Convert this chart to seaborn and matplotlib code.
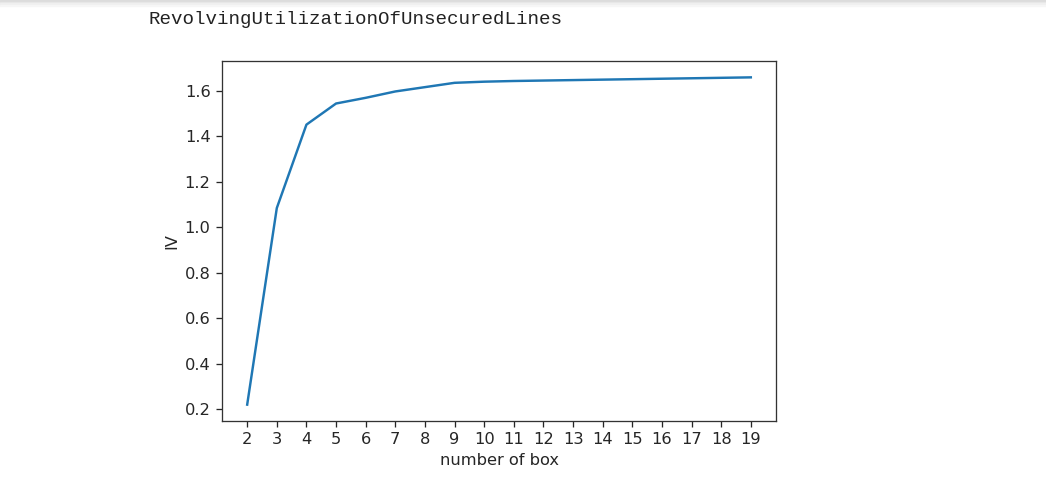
import matplotlib
matplotlib.use("Agg")
import matplotlib.pyplot as plt
import seaborn as sns
import pandas as pd

# data
n_box = [2, 3, 4, 5, 6, 7, 8, 9, 10, 11, 12, 13, 14, 15, 16, 17, 18, 19]
iv = [0.22, 1.085, 1.452, 1.545, 1.570, 1.598, 1.617, 1.636, 1.641, 1.644,
      1.646, 1.648, 1.650, 1.652, 1.654, 1.656, 1.658, 1.660]
title_text = "RevolvingUtilizationOfUnsecuredLines"
x_label = "number of box"
y_label = "IV"

df = pd.DataFrame({"n": n_box, "iv": iv})

s = 1.17  # scale of original figure relative to 100 dpi
fig = plt.figure(figsize=(10.46, 4.99), dpi=100)
ax = fig.add_axes([222 / 1046, 1 - 421 / 499, (776 - 222) / 1046, (421 - 61) / 499])

sns.lineplot(data=df, x="n", y="iv", ax=ax, color="#1f77b4", linewidth=1.5 * s)

ax.set_xticks(n_box)
ax.set_xticklabels([str(v) for v in n_box])
ax.set_xlabel(x_label, fontsize=10 * s, color="#262626", labelpad=3.5 * s)
ax.set_ylabel(y_label, fontsize=10 * s, color="#262626", labelpad=3.5 * s)
ax.tick_params(axis="both", labelsize=10 * s, length=3.5 * s, width=0.8 * s,
               pad=3.5 * s, labelcolor="#262626", color="#262626")
for sp in ax.spines.values():
    sp.set_linewidth(0.8 * s)
    sp.set_color("#333333")
ax.grid(False)

# notebook output text
fig.text(148 / 1046, 1 - 19 / 499, title_text, family="Liberation Mono",
         fontsize=13.8, color="#222222", va="center", ha="left")

# top cell shadow
for i, c in enumerate(["#dcdcdc", "#e6e6e6", "#efefef", "#f6f6f6"]):
    fig.patches.append(plt.Rectangle((0, 1 - (i + 1) * 1.5 / 499), 1, 1.5 / 499,
                                     transform=fig.transFigure, color=c, zorder=0))

fig.savefig("out.png", dpi=100)
